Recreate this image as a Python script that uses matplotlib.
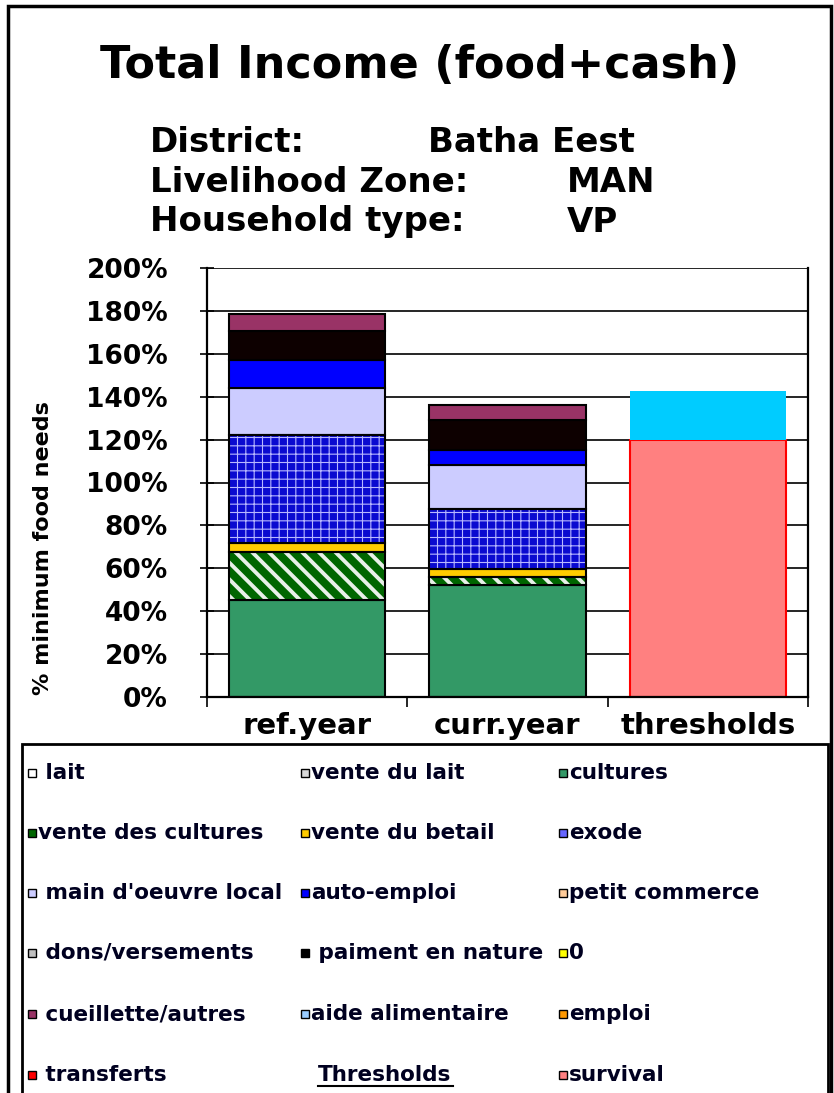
import matplotlib
matplotlib.use("Agg")
import matplotlib.pyplot as plt
from matplotlib.patches import Rectangle
from matplotlib.lines import Line2D
from matplotlib.ticker import PercentFormatter, FixedLocator

# data
categories = ['ref.year', 'curr.year', 'thresholds']
income_names = ['cultures', 'vente des cultures', 'vente du betail', 'exode',
                "main d'oeuvre local", 'auto-emploi', 'paiment en nature', 'cueillette/autres']
ref_year = [45, 22.5, 4.5, 50, 22, 13, 13.5, 8]
curr_year = [52, 4, 3.5, 28, 20.5, 7, 14, 7]
threshold_names = ['survival', 'livelihoods protection']
threshold_values = [120, 22.5]

legend_labels = [' lait', 'vente du lait', 'cultures',
                 'vente des cultures', 'vente du betail', 'exode',
                 " main d'oeuvre local", 'auto-emploi', 'petit commerce',
                 ' dons/versements', ' paiment en nature', '0',
                 ' cueillette/autres', 'aide alimentaire', 'emploi',
                 ' transferts', None, 'survival']
legend_colors = ['white', '#D8D8D8', '#339966',
                 '#006600', '#FFCC00', '#6666FF',
                 '#CCCCFF', '#0000FF', '#FFCC99',
                 '#C0C0C0', '#000000', '#FFFF00',
                 '#993366', '#99CCFF', '#FF9900',
                 '#FF0000', None, '#FF8080']

# styles per income series: facecolor, hatch, hatch colour, hatch width
styles = {
    'cultures': ('#339966', None, None, 0),
    'vente des cultures': ('#006600', '\\\\', '#E8F0E8', 2.8),
    'vente du betail': ('#FFCC00', None, None, 0),
    'exode': ('#0A0AD0', '++', '#B8B8FF', 0.8),
    "main d'oeuvre local": ('#CCCCFF', None, None, 0),
    'auto-emploi': ('#0000FF', None, None, 0),
    'paiment en nature': ('#0D0000', None, None, 0),
    'cueillette/autres': ('#993366', None, None, 0),
}

plt.rcParams['font.family'] = 'DejaVu Sans'
plt.rcParams['font.weight'] = 'bold'
plt.rcParams['hatch.linewidth'] = 1.5

W, H = 834, 1093
fig = plt.figure(figsize=(W / 100, H / 100), dpi=100)


def fx(x):
    return x / W


def fy(y):
    return 1 - y / H


ax = fig.add_axes([fx(207), fy(697), (808 - 207) / W, (697 - 268) / H])

bar_w = 0.78
bottom = [0.0, 0.0]
xs = [0, 1]
for name, r, c in zip(income_names, ref_year, curr_year):
    face, hatch, hcol, hlw = styles[name]
    vals = [r, c]
    if hatch:
        bars = ax.bar(xs, vals, bar_w, bottom=bottom, color=face, edgecolor=hcol,
                      hatch=hatch, linewidth=0, zorder=2)
        for p in bars:
            if hasattr(p, 'set_hatch_linewidth'):
                p.set_hatch_linewidth(hlw)
        ax.bar(xs, vals, bar_w, bottom=bottom, fill=False, edgecolor='black',
               linewidth=1.5, zorder=3)
    else:
        ax.bar(xs, vals, bar_w, bottom=bottom, color=face, edgecolor='black',
               linewidth=1.5, zorder=2)
    bottom = [b + v for b, v in zip(bottom, vals)]

# thresholds bar
ax.bar(2, threshold_values[0], bar_w, color='#FF8080', edgecolor='#FF0000',
       linewidth=1.5, zorder=2)
ax.bar(2, threshold_values[1], bar_w, bottom=threshold_values[0],
       color='#00CCFF', linewidth=0, zorder=2)

ax.set_xlim(-0.5, 2.5)
ax.set_ylim(0, 200)
ax.set_yticks(range(0, 201, 20))
ax.yaxis.set_major_formatter(PercentFormatter(decimals=0))
ax.yaxis.grid(True, color='black', linewidth=1.2, zorder=0)
ax.set_axisbelow(True)
ax.spines['top'].set_visible(False)
for s in ['left', 'right', 'bottom']:
    ax.spines[s].set_linewidth(1.6)
ax.tick_params(axis='y', direction='inout', length=10, width=1.2,
               labelsize=19, pad=23)
ax.set_xticks([0, 1, 2])
ax.set_xticklabels(categories, fontsize=21)
ax.tick_params(axis='x', which='major', length=0, pad=11)
ax.xaxis.set_minor_locator(FixedLocator([-0.5, 0.5, 1.5, 2.5]))
ax.tick_params(axis='x', which='minor', direction='out', length=7, width=1.2)

fig.text(fx(43), fy(548), '% minimum food needs', rotation=90,
         ha='center', va='center', fontsize=16, fontweight='bold')

# titles
fig.text(fx(420), fy(66), 'Total Income (food+cash)', ha='center', va='center',
         fontsize=32, fontweight='bold')
info = [('District:', 'Batha Eest', 428, 142),
        ('Livelihood Zone:', 'MAN', 567, 183),
        ('Household type:', 'VP', 567, 222)]
for lab, val, vx, y in info:
    fig.text(fx(150), fy(y), lab, ha='left', va='center', fontsize=24.5, fontweight='bold')
    fig.text(fx(vx), fy(y), val, ha='left', va='center', fontsize=24.5, fontweight='bold')

# frames
fig.add_artist(Rectangle((fx(8), -0.01), (831 - 8) / W, fy(6) + 0.01,
                         transform=fig.transFigure, fill=False,
                         edgecolor='black', linewidth=2.5))
fig.add_artist(Rectangle((fx(22), -0.01), (828 - 22) / W, fy(744) + 0.01,
                         transform=fig.transFigure, fill=False,
                         edgecolor='black', linewidth=2))

# legend
col_x = [32, 305, 563]
row_y = [773, 833, 893, 953, 1014, 1075]
for i, (lab, col) in enumerate(zip(legend_labels, legend_colors)):
    r, c = divmod(i, 3)
    x, y = col_x[c], row_y[r]
    if lab is None:
        fig.text(fx(318), fy(y), 'Thresholds', ha='left', va='center',
                 fontsize=15.5, fontweight='bold', color='#000020')
        fig.add_artist(Line2D([fx(318), fx(453)], [fy(y + 11), fy(y + 11)],
                              transform=fig.transFigure, color='black', linewidth=1.5))
        continue
    fig.add_artist(Rectangle((fx(x - 4), fy(y + 4)), 8 / W, 8 / H,
                             transform=fig.transFigure, facecolor=col,
                             edgecolor='black', linewidth=1))
    fig.text(fx(x + 6), fy(y), lab, ha='left', va='center', fontsize=15.5,
             fontweight='bold', color='#000020')

fig.savefig('out.png', dpi=100)
